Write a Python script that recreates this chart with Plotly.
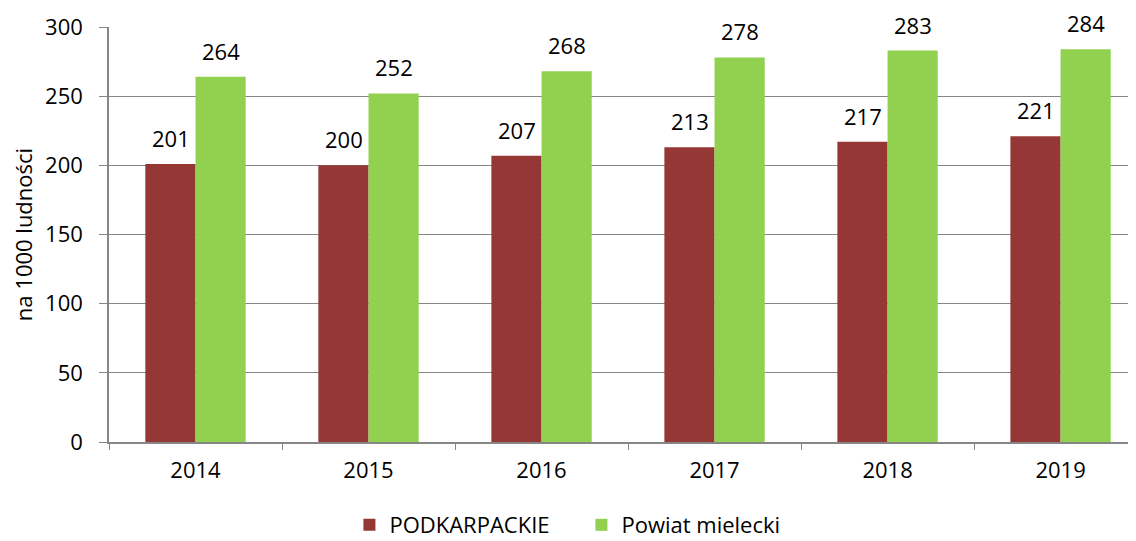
import plotly.graph_objects as go

years = ["2014", "2015", "2016", "2017", "2018", "2019"]
podkarpackie = [201, 200, 207, 213, 217, 221]
powiat_mielecki = [264, 252, 268, 278, 283, 284]

FONT = "Open Sans, sans-serif"
GRAY = "#868686"

fig = go.Figure()
fig.add_trace(go.Bar(x=years, y=podkarpackie, name="PODKARPACKIE",
                     marker=dict(color="#953735", line=dict(width=0))))
fig.add_trace(go.Bar(x=years, y=powiat_mielecki, name="Powiat mielecki",
                     marker=dict(color="#92D050", line=dict(width=0))))

# etykiety wartości nad słupkami (x jako indeks kategorii)
for vals, shift in ((podkarpackie, -25), (powiat_mielecki, 25)):
    for i, v in enumerate(vals):
        fig.add_annotation(x=i, y=v, xref="x", yref="y", text=str(v), showarrow=False,
                           xshift=shift, yshift=9, yanchor="bottom",
                           font=dict(size=22, color="black", family=FONT))

# strona ma 8px marginesu body, więc figura jest o 8px mniejsza
fig.update_layout(
    width=1128, height=533,
    margin=dict(l=101, r=0, t=19, b=99, autoexpand=False),
    plot_bgcolor="white", paper_bgcolor="white",
    barmode="group", bargap=0.42, bargroupgap=0,
    font=dict(family=FONT, size=21, color="black"),
    showlegend=True,
    legend=dict(orientation="h", x=0.46, xanchor="center", y=-0.2, yanchor="middle",
                font=dict(size=22), itemwidth=30, entrywidth=187),
)
fig.update_xaxes(range=[-0.5, 5.436], showline=True, linecolor=GRAY, linewidth=1.5,
                 ticks="outside", tickson="boundaries", ticklen=6, tickcolor=GRAY,
                 showgrid=False, tickfont=dict(size=22), ticklabelstandoff=8,
                 automargin=False)
fig.update_yaxes(range=[0, 300], dtick=50, showline=True, linecolor=GRAY, linewidth=1.5,
                 showgrid=True, gridcolor=GRAY, gridwidth=1.2, zeroline=False,
                 ticks="outside", ticklen=8, tickcolor=GRAY, tickfont=dict(size=22),
                 ticklabelstandoff=12, automargin=False,
                 title=dict(text="na 1000 ludności", font=dict(size=22), standoff=10))

fig.write_html("out.html")
